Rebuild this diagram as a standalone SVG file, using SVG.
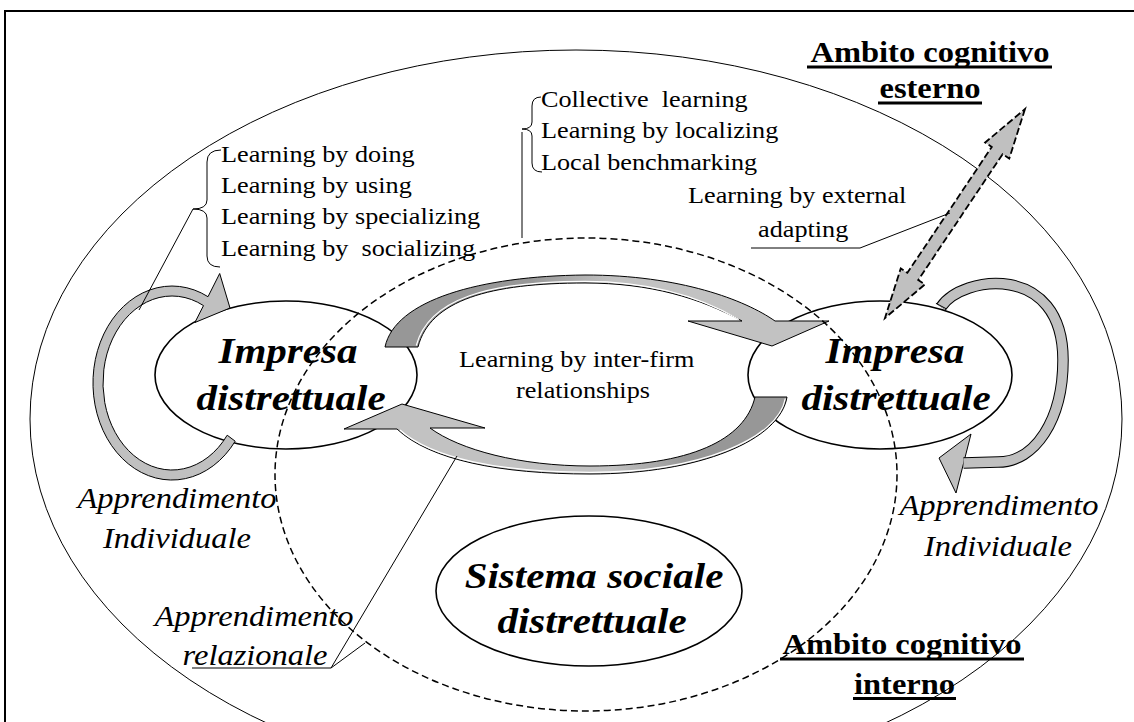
<svg xmlns="http://www.w3.org/2000/svg" width="1134" height="722" viewBox="0 0 1134 722">
<style>
.t{font-family:"Liberation Serif","Times New Roman",serif;fill:#000;white-space:pre}
.reg{font-size:23px}
.it{font-size:28.5px;font-style:italic}
.bd{font-size:28.5px;font-weight:bold}
.bi{font-size:36px;font-weight:bold;font-style:italic}
.ln{fill:none;stroke:#000;stroke-width:1}
.el{fill:none;stroke:#000;stroke-width:1.6}
.arr{fill:#c0c0c0;stroke:#000;stroke-width:1}
.hl{fill:none;stroke:#fff;stroke-width:1.2}
</style>
<defs>
<linearGradient id="gU" gradientUnits="userSpaceOnUse" x1="530" y1="0" x2="615" y2="0">
<stop offset="0" stop-color="#979797"/><stop offset="1" stop-color="#c2c2c2"/>
</linearGradient>
<linearGradient id="gL" gradientUnits="userSpaceOnUse" x1="685" y1="0" x2="610" y2="0">
<stop offset="0" stop-color="#979797"/><stop offset="1" stop-color="#c2c2c2"/>
</linearGradient>
</defs>
<rect x="5" y="11" width="1140" height="730" fill="#fff" stroke="#000" stroke-width="2"/>

<g id="ambito-interno-area">
<ellipse cx="576" cy="419" rx="546" ry="369" class="ln"/>
</g>

<g id="impresa-left">
<ellipse cx="286" cy="375" rx="131" ry="74" class="el"/>
</g>
<g id="impresa-right">
<ellipse cx="880" cy="375" rx="132" ry="74" class="el"/>
</g>
<g id="sistema-sociale">
<ellipse cx="589" cy="591" rx="153" ry="75" class="el"/>
</g>

<g id="connectors">
<!-- left loop -->
<path class="arr" d="M235.2,441.2 A79,97 0 1 1 208,296.7 L219.7,273.5 L230,308 L194.9,322.5 L203.5,305.6 A69,87 0 1 0 227.2,435.2 Z"/>
<!-- right loop -->
<polygon class="arr" points="971,434 939,458 956,493"/>
<path d="M941,307 C962,275 1063,262 1063,360 C1063,420 1035,462 998,462 L963.5,463" fill="none" stroke="#000" stroke-width="11.5"/>
<path d="M941,307 C962,275 1063,262 1063,360 C1063,420 1035,462 998,462 L963.5,463" fill="none" stroke="#c0c0c0" stroke-width="9.5"/>
<line x1="935.9" y1="303.3" x2="946.1" y2="308.7" stroke="#000" stroke-width="1"/>
<!-- inter-firm arrows -->
<path d="M385,347 C395,300 480,276 585,275 C680,275 745,300 775,321 L829,321 L772,346 L688,321 L742,321 C700,298 650,283 585,283 C490,283 430,300 418,347 Z" fill="url(#gU)" stroke="#000" stroke-width="1"/>
<path class="hl" d="M416.3,345.5 C428.5,299 488,281.3 585,281.3 C650,281.3 700,296.5 739,319.5"/>
<path d="M755,397 L787,397 C780,440 700,474 590,474 C500,474 430,460 397,429 L344,429 L402,404 L485,428 L430,428 C460,450 520,466 590,466 C690,466 745,440 755,397 Z" fill="url(#gL)" stroke="#000" stroke-width="1"/>
<path class="hl" d="M785.3,398.5 C778,439 699,472.3 590,472.3 C500,472.3 432,458.5 400,430"/>
<!-- external double arrow -->
<polygon points="1025,109 1009.25,158.6 1002.6,154.2 918.2,280.1 924.85,284.5 885,318 900.75,268.4 907.4,272.8 991.8,146.9 985.15,142.5" fill="#c0c0c0" stroke="#000" stroke-width="1.8" stroke-dasharray="7 3"/>
<!-- leader lines -->
<polyline class="ln" points="193,209 139,310"/>
<polyline class="ln" points="522,132 522,238"/>
<polyline class="ln" points="751,248 860,248 950,213"/>
<polyline class="ln" points="192,668 331,668 457,456"/>
<polyline class="ln" points="331,668 365,643"/>
</g>

<g id="ambito-relazionale-area">
<ellipse cx="586" cy="474.5" rx="311" ry="236.5" fill="none" stroke="#000" stroke-width="1.5" stroke-dasharray="7 4"/>
</g>

<g id="labels">
<path class="ln" d="M221,150 Q207,150 207,162 L207,200 Q207,209 193,209 Q207,209 207,218 L207,256 Q207,267 220,267"/>
<path class="ln" d="M541,97 Q532,97 532,106 L532,122 Q532,129 522,129 Q532,129 532,136 L532,163 Q532,172 542,172"/>
<text class="t reg" transform="translate(221,162) scale(1.14,1)">Learning by doing</text>
<text class="t reg" transform="translate(221,193) scale(1.14,1)">Learning by using</text>
<text class="t reg" transform="translate(221,224) scale(1.14,1)">Learning by specializing</text>
<text class="t reg" transform="translate(221,256) scale(1.14,1)">Learning by  socializing</text>
<text class="t reg" transform="translate(541,107) scale(1.14,1)">Collective  learning</text>
<text class="t reg" transform="translate(541,138) scale(1.14,1)">Learning by localizing</text>
<text class="t reg" transform="translate(541,170) scale(1.14,1)">Local benchmarking</text>
<text class="t reg" transform="translate(688,203) scale(1.14,1)">Learning by external</text>
<text class="t reg" transform="translate(758,237) scale(1.14,1)">adapting</text>
<text class="t reg" transform="translate(459,367) scale(1.14,1)">Learning by inter-firm</text>
<text class="t reg" transform="translate(516,398) scale(1.14,1)">relationships</text>

<text class="t bi" text-anchor="middle" transform="translate(288,363) scale(1.14,1)">Impresa</text>
<text class="t bi" text-anchor="middle" transform="translate(291,410) scale(1.14,1)">distrettuale</text>
<text class="t bi" text-anchor="middle" transform="translate(895,363) scale(1.14,1)">Impresa</text>
<text class="t bi" text-anchor="middle" transform="translate(896,410) scale(1.14,1)">distrettuale</text>
<text class="t bi" text-anchor="middle" transform="translate(594,588) scale(1.14,1)">Sistema sociale</text>
<text class="t bi" text-anchor="middle" transform="translate(592,633) scale(1.14,1)">distrettuale</text>

<text class="t it" text-anchor="middle" transform="translate(177,508) scale(1.14,1)">Apprendimento</text>
<text class="t it" text-anchor="middle" transform="translate(177,548) scale(1.14,1)">Individuale</text>
<text class="t it" text-anchor="middle" transform="translate(999,515) scale(1.14,1)">Apprendimento</text>
<text class="t it" text-anchor="middle" transform="translate(998,556) scale(1.14,1)">Individuale</text>
<text class="t it" text-anchor="middle" transform="translate(254,626) scale(1.14,1)">Apprendimento</text>
<text class="t it" text-anchor="middle" transform="translate(255,665) scale(1.14,1)">relazionale</text>

<text class="t bd" text-anchor="middle" transform="translate(930,62) scale(1.14,1)">Ambito cognitivo</text>
<rect x="807" y="65.5" width="245" height="3"/>
<text class="t bd" text-anchor="middle" transform="translate(930,98) scale(1.14,1)">esterno</text>
<rect x="878" y="101.5" width="104" height="3"/>
<text class="t bd" text-anchor="middle" transform="translate(902,654) scale(1.14,1)">Ambito cognitivo</text>
<rect x="780" y="657.5" width="244" height="3"/>
<text class="t bd" text-anchor="middle" transform="translate(904.5,694) scale(1.14,1)">interno</text>
<rect x="853" y="697" width="103" height="3"/>
</g>
</svg>
